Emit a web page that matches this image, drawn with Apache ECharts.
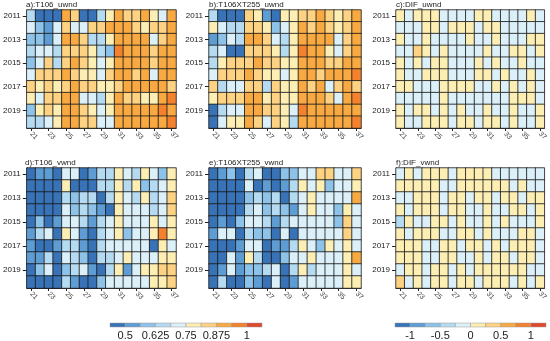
<!DOCTYPE html>
<html>
<head>
<meta charset="utf-8">
<script src="https://cdn.jsdelivr.net/npm/echarts@6/dist/echarts.min.js"></script>
<style>html,body{margin:0;padding:0;background:#fff}#c{width:550px;height:341px}</style>
</head>
<body>
<div id="c"></div>
<script>
const years = ['2011','2012','2013','2014','2015','2016','2017','2018','2019','2020'];
const columns = ['21','22','23','24','25','26','27','28','29','30','31','32','33','34','35','36','37'];

const panelTitles = ['a):T106_uwnd','b):T106XT255_uwnd','c):DIF_uwnd','d):T106_vwnd','e):T106XT255_vwnd','f):DIF_vwnd'];

const t106Uwnd = [
 [0.66,0.47,0.46,0.45,0.91,0.84,0.48,0.46,0.66,0.78,0.91,0.84,0.85,0.90,0.78,0.72,0.92],
 [0.73,0.60,0.54,0.72,0.85,0.73,0.74,0.84,0.83,0.90,0.91,0.89,0.85,0.79,0.84,0.83,0.91],
 [0.59,0.61,0.55,0.73,0.90,0.89,0.85,0.67,0.66,0.78,0.91,0.90,0.92,0.90,0.72,0.84,0.91],
 [0.67,0.73,0.74,0.66,0.85,0.84,0.83,0.79,0.67,0.61,0.96,0.90,0.91,0.89,0.84,0.90,0.91],
 [0.60,0.73,0.84,0.67,0.84,0.90,0.85,0.78,0.73,0.79,0.91,0.90,0.89,0.92,0.84,0.90,0.91],
 [0.74,0.84,0.85,0.83,0.90,0.84,0.79,0.78,0.73,0.84,0.91,0.90,0.85,0.90,0.73,0.91,0.92],
 [0.84,0.78,0.84,0.79,0.85,0.90,0.84,0.83,0.78,0.79,0.85,0.90,0.91,0.89,0.90,0.91,0.84],
 [0.79,0.73,0.84,0.85,0.90,0.91,0.73,0.74,0.67,0.78,0.90,0.84,0.85,0.79,0.78,0.91,0.96],
 [0.60,0.78,0.84,0.79,0.90,0.91,0.84,0.78,0.73,0.79,0.91,0.90,0.89,0.91,0.90,0.96,0.92],
 [0.66,0.67,0.73,0.78,0.90,0.91,0.84,0.85,0.73,0.72,0.90,0.91,0.89,0.90,0.91,0.92,0.97]
];
const t106xt255Uwnd = [
 [0.66,0.46,0.47,0.45,0.84,0.78,0.54,0.47,0.78,0.79,0.84,0.85,0.90,0.84,0.78,0.84,0.91],
 [0.78,0.73,0.66,0.67,0.84,0.85,0.79,0.60,0.73,0.78,0.90,0.84,0.91,0.85,0.79,0.84,0.90],
 [0.54,0.60,0.73,0.66,0.90,0.91,0.84,0.73,0.67,0.78,0.90,0.91,0.89,0.90,0.73,0.84,0.91],
 [0.66,0.73,0.46,0.45,0.84,0.85,0.84,0.78,0.66,0.79,0.96,0.90,0.91,0.79,0.72,0.84,0.90],
 [0.67,0.78,0.84,0.85,0.84,0.90,0.84,0.85,0.78,0.79,0.91,0.90,0.89,0.84,0.85,0.90,0.91],
 [0.73,0.84,0.85,0.84,0.90,0.84,0.79,0.78,0.73,0.79,0.90,0.91,0.84,0.90,0.91,0.92,0.96],
 [0.84,0.66,0.73,0.72,0.85,0.84,0.67,0.84,0.78,0.79,0.91,0.84,0.90,0.73,0.84,0.91,0.85],
 [0.78,0.84,0.85,0.84,0.90,0.91,0.79,0.84,0.78,0.78,0.90,0.91,0.89,0.84,0.73,0.90,0.96],
 [0.46,0.66,0.73,0.72,0.90,0.91,0.84,0.85,0.79,0.73,0.96,0.90,0.91,0.89,0.90,0.91,0.92],
 [0.45,0.73,0.78,0.79,0.90,0.84,0.72,0.84,0.78,0.67,0.91,0.90,0.89,0.90,0.91,0.92,0.96]
];
const difUwnd = [
 [0.12,-0.10,0.14,0.09,0.11,-0.13,-0.08,-0.12,-0.10,0.13,0.10,-0.11,-0.09,-0.14,-0.12,0.08,-0.10],
 [-0.12,-0.09,-0.13,0.10,0.12,-0.11,0.09,0.14,0.11,-0.10,0.12,0.09,-0.12,-0.08,-0.13,-0.10,-0.11],
 [0.10,-0.13,-0.10,0.12,-0.09,-0.12,-0.11,-0.14,0.09,-0.10,-0.12,0.11,-0.09,-0.13,-0.11,0.12,0.10],
 [-0.11,-0.10,0.38,0.13,-0.12,0.09,-0.10,-0.13,-0.11,-0.09,0.11,-0.12,-0.10,0.14,0.10,-0.13,0.12],
 [0.09,-0.12,0.11,-0.10,0.13,0.10,-0.09,-0.11,-0.14,0.12,-0.10,0.09,-0.12,-0.11,0.13,-0.09,-0.12],
 [0.13,-0.11,-0.09,0.10,0.12,0.11,-0.12,-0.10,-0.13,0.09,0.14,-0.11,0.10,-0.12,-0.09,0.11,-0.10],
 [0.11,0.09,-0.12,-0.10,-0.11,0.13,0.10,0.12,0.09,-0.13,-0.10,0.11,-0.09,0.12,-0.11,0.10,-0.12],
 [-0.10,-0.12,-0.09,-0.11,-0.13,0.10,-0.12,-0.10,-0.09,-0.11,-0.14,-0.10,-0.12,0.09,0.13,0.11,-0.09],
 [0.12,-0.09,0.10,0.13,-0.12,0.11,-0.10,0.09,-0.13,-0.11,0.12,-0.09,-0.10,0.11,-0.12,-0.13,0.10],
 [0.10,-0.11,-0.12,0.09,0.12,0.10,-0.13,0.11,0.14,-0.10,0.09,0.12,-0.11,0.10,-0.09,-0.12,0.13]
];
const t106Vwnd = [
 [0.46,0.53,0.54,0.45,0.72,0.73,0.47,0.54,0.66,0.67,0.78,0.73,0.66,0.79,0.72,0.60,0.78],
 [0.45,0.46,0.47,0.44,0.78,0.46,0.45,0.47,0.67,0.66,0.79,0.66,0.78,0.60,0.67,0.73,0.79],
 [0.46,0.45,0.44,0.47,0.66,0.60,0.67,0.66,0.46,0.66,0.78,0.72,0.67,0.79,0.66,0.73,0.84],
 [0.45,0.47,0.46,0.45,0.73,0.61,0.66,0.59,0.54,0.46,0.78,0.73,0.72,0.74,0.66,0.73,0.85],
 [0.46,0.60,0.45,0.53,0.72,0.73,0.67,0.54,0.66,0.72,0.79,0.73,0.74,0.72,0.78,0.73,0.79],
 [0.54,0.66,0.73,0.46,0.78,0.72,0.53,0.45,0.67,0.73,0.78,0.60,0.72,0.73,0.79,0.97,0.78],
 [0.53,0.46,0.45,0.54,0.66,0.67,0.53,0.46,0.66,0.72,0.73,0.72,0.74,0.73,0.46,0.78,0.72],
 [0.54,0.53,0.66,0.46,0.73,0.66,0.60,0.45,0.67,0.66,0.72,0.78,0.73,0.72,0.74,0.79,0.78],
 [0.45,0.60,0.73,0.46,0.61,0.66,0.72,0.54,0.46,0.66,0.79,0.53,0.73,0.78,0.79,0.84,0.85],
 [0.46,0.45,0.47,0.45,0.66,0.54,0.46,0.45,0.60,0.72,0.73,0.72,0.74,0.73,0.78,0.79,0.84]
];
const t106xt255Vwnd = [
 [0.46,0.54,0.60,0.45,0.66,0.73,0.46,0.47,0.60,0.61,0.72,0.73,0.84,0.85,0.72,0.73,0.84],
 [0.45,0.46,0.47,0.44,0.72,0.46,0.53,0.45,0.54,0.66,0.78,0.73,0.79,0.60,0.72,0.73,0.78],
 [0.46,0.45,0.44,0.46,0.60,0.66,0.61,0.67,0.45,0.66,0.73,0.78,0.72,0.73,0.74,0.72,0.91],
 [0.45,0.47,0.46,0.45,0.66,0.72,0.60,0.66,0.61,0.54,0.73,0.79,0.72,0.73,0.60,0.78,0.73],
 [0.46,0.53,0.45,0.60,0.72,0.73,0.66,0.54,0.67,0.73,0.72,0.74,0.73,0.72,0.61,0.84,0.72],
 [0.54,0.73,0.72,0.46,0.66,0.60,0.61,0.45,0.73,0.46,0.72,0.73,0.74,0.72,0.73,0.85,0.72],
 [0.45,0.46,0.47,0.53,0.72,0.73,0.46,0.54,0.53,0.66,0.78,0.72,0.60,0.79,0.73,0.78,0.72],
 [0.46,0.45,0.73,0.54,0.78,0.66,0.45,0.46,0.60,0.72,0.73,0.78,0.72,0.73,0.74,0.79,0.90],
 [0.45,0.54,0.72,0.53,0.60,0.61,0.66,0.73,0.46,0.67,0.78,0.66,0.73,0.72,0.74,0.78,0.73],
 [0.46,0.66,0.45,0.47,0.60,0.54,0.46,0.72,0.45,0.53,0.73,0.72,0.74,0.73,0.72,0.78,0.79]
];
const difVwnd = [
 [-0.11,0.10,-0.12,0.12,0.09,0.11,-0.10,0.13,0.10,0.09,0.12,-0.11,-0.09,-0.12,-0.10,-0.13,-0.11],
 [0.10,0.12,0.09,0.11,0.13,-0.10,-0.12,0.10,0.09,0.12,0.11,0.10,0.13,-0.11,0.09,-0.12,-0.10],
 [-0.12,-0.10,0.11,0.09,0.12,-0.11,0.10,0.13,-0.09,0.11,0.10,-0.12,0.09,0.12,-0.10,0.11,0.13],
 [0.11,-0.09,0.12,0.10,0.11,-0.12,0.09,0.10,-0.11,-0.13,0.12,-0.10,-0.09,0.11,0.10,-0.12,0.09],
 [-0.37,0.10,-0.11,-0.12,0.09,0.12,-0.10,0.11,-0.13,-0.09,0.10,-0.11,0.12,-0.10,-0.12,-0.09,0.11],
 [0.12,-0.10,0.09,0.11,0.13,-0.11,-0.12,0.10,0.09,-0.10,0.12,-0.13,-0.09,-0.11,0.10,0.12,-0.10],
 [0.09,0.11,0.12,-0.10,-0.12,0.10,0.13,-0.11,0.09,0.11,-0.12,0.10,-0.09,0.12,0.11,0.09,-0.10],
 [0.11,0.10,0.13,-0.12,-0.09,0.11,0.10,-0.13,-0.10,0.12,-0.11,0.09,0.10,-0.12,0.11,0.13,-0.09],
 [-0.10,0.12,0.11,-0.09,0.10,0.13,-0.11,0.09,-0.12,0.10,0.11,0.12,0.09,0.13,0.10,-0.11,-0.12],
 [0.36,-0.11,0.10,-0.12,0.09,0.11,-0.10,0.12,0.10,-0.13,0.09,0.11,0.12,-0.10,0.13,-0.09,0.11]
];

const uwndBreaks = [0.4375,0.5,0.5625,0.625,0.6875,0.75,0.8125,0.875,0.9375,1,1.0625];
const uwndTickLabels = [0.5,0.625,0.75,0.875,1];
const difBreaks = [-1.25,-1,-0.75,-0.5,-0.25,0,0.25,0.5,0.75,1,1.25];
const difTickLabels = [-1,-0.5,0,0.5,1];
const palette = ['#3873b8','#5e9cd4','#8dc2e9','#b5dbf3','#dcf0fa','#fdeeb3','#fdd282','#f8a941','#f3812d','#df482b'];

const panelData = [t106Uwnd, t106xt255Uwnd, difUwnd, t106Vwnd, t106xt255Vwnd, difVwnd];
const panelBoxes = [
  {left:26, top:10, width:150, height:118},
  {left:209, top:10, width:152, height:118},
  {left:396, top:10, width:150, height:118},
  {left:25, top:168, width:151, height:120},
  {left:209, top:168, width:152, height:120},
  {left:396, top:168, width:150, height:120}
];

function toTriples(m){
  const out = [];
  m.forEach((row, yi) => row.forEach((v, xi) => out.push([xi, yi, v])));
  return out;
}
function piecesFrom(breaks){
  const p = [];
  for (let i = 0; i < palette.length; i++) {
    const piece = {color: palette[i]};
    if (i > 0) piece.gte = breaks[i];
    if (i < palette.length - 1) piece.lt = breaks[i + 1];
    p.push(piece);
  }
  return p;
}

const FONT = 'Liberation Sans';
const grids = [], xAxes = [], yAxes = [], series = [], titles = [];

panelBoxes.forEach((b, i) => {
  grids.push(Object.assign({}, b));
  titles.push({text: panelTitles[i], left: b.left, top: b.top - 9, padding: 0,
    textStyle: {fontSize: 8, fontWeight: 'normal', color: '#222', fontFamily: FONT}});
  xAxes.push({type: 'category', gridIndex: i, data: columns, position: 'bottom',
    axisLine: {show: true, lineStyle: {color: '#222', width: 1}},
    axisTick: {show: true, interval: 1, alignWithLabel: true, length: 3, lineStyle: {color: '#222'}},
    axisLabel: {interval: 1, rotate: -45, fontSize: 7, color: '#444', margin: 5, fontFamily: FONT},
    splitLine: {show: false}});
  yAxes.push({type: 'category', gridIndex: i, data: years, inverse: true,
    axisLine: {show: true, lineStyle: {color: '#222', width: 1}},
    axisTick: {show: true, interval: 1, alignWithLabel: true, length: 4, lineStyle: {color: '#222'}},
    axisLabel: {interval: 1, fontSize: 8, color: '#222', margin: 6, fontFamily: FONT},
    splitLine: {show: false}});
  series.push({type: 'heatmap', xAxisIndex: i, yAxisIndex: i, data: toTriples(panelData[i]),
    itemStyle: {borderColor: 'rgba(25,25,25,0.9)', borderWidth: 0.9},
    emphasis: {disabled: true}, silent: true});
});

// colour bars
const bars = [
  {breaks: uwndBreaks, labels: uwndTickLabels, box: {left:110, top:323, width:152, height:5}},
  {breaks: difBreaks, labels: difTickLabels, box: {left:395, top:323, width:151, height:5}}
];
bars.forEach((cb, k) => {
  const gi = grids.length;
  grids.push(Object.assign({}, cb.box));
  const step = cb.breaks[1] - cb.breaks[0];
  xAxes.push({type: 'value', gridIndex: gi, min: cb.breaks[0], max: cb.breaks[cb.breaks.length - 1], interval: step,
    axisLine: {show: false}, axisTick: {show: false}, splitLine: {show: false},
    axisLabel: {fontSize: 11, color: '#222', margin: 3, fontFamily: FONT, showMinLabel: true, showMaxLabel: true,
      formatter: v => cb.labels.some(t => Math.abs(t - v) < 1e-6) ? String(+v.toFixed(4)) : ''}});
  yAxes.push({type: 'value', gridIndex: gi, min: 0, max: 1, show: false});
  const binData = [];
  for (let i = 0; i < cb.breaks.length - 1; i++) binData.push([cb.breaks[i], cb.breaks[i + 1], i]);
  series.push({type: 'custom', xAxisIndex: gi, yAxisIndex: gi, data: binData, silent: true,
    renderItem: (params, api) => {
      const p0 = api.coord([api.value(0), 1]);
      const p1 = api.coord([api.value(1), 0]);
      return {type: 'rect', shape: {x: p0[0], y: p0[1], width: p1[0] - p0[0], height: p1[1] - p0[1]},
        style: {fill: palette[api.value(2)], stroke: '#999', lineWidth: 0.5}};
    }});
});

const chart = echarts.init(document.getElementById('c'), null, {renderer: 'canvas'});
chart.setOption({
  animation: false,
  backgroundColor: '#fff',
  textStyle: {fontFamily: FONT},
  title: titles,
  grid: grids,
  xAxis: xAxes,
  yAxis: yAxes,
  visualMap: [
    {type: 'piecewise', show: false, seriesIndex: [0, 1, 3, 4], pieces: piecesFrom(uwndBreaks)},
    {type: 'piecewise', show: false, seriesIndex: [2, 5], pieces: piecesFrom(difBreaks)}
  ],
  series: series
});
</script>
</body>
</html>
